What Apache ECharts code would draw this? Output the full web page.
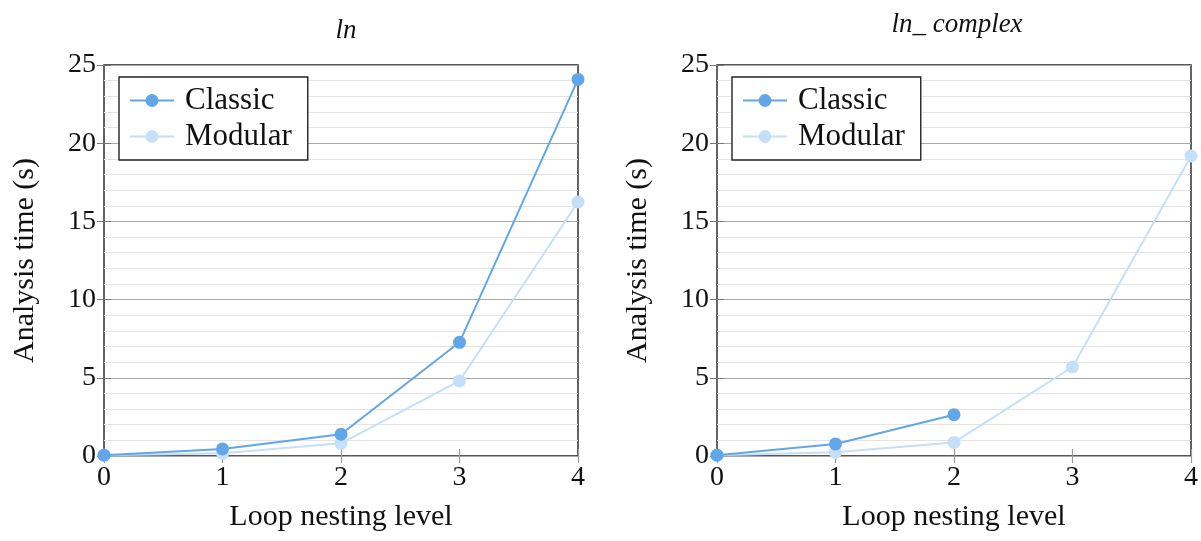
<!DOCTYPE html>
<html>
<head>
<meta charset="utf-8">
<script src="https://cdn.jsdelivr.net/npm/echarts@6/dist/echarts.min.js"></script>
<style>
  html, body { margin: 0; padding: 0; background: #fff; }
  #chart { width: 1201px; height: 541px; }
</style>
</head>
<body>
<div id="chart"></div>
<script>
// nesting levels on the x axis
const levels = [0, 1, 2, 3, 4];

// ln
const lnClassic = [0.05, 0.45, 1.39, 7.27, 24.08];
const lnModular = [0.05, 0.17, 0.81, 4.8, 16.24];

// ln_ complex (classic stops at level 2)
const complexClassic = [0.05, 0.77, 2.64];
const complexModular = [0.05, 0.24, 0.87, 5.69, 19.18];

const yTicks = [0, 5, 10, 15, 20, 25];

const FONT = "Liberation Serif";
const colorClassic = "#62a6ea";
const colorModular = "#c4dff8";

const chart = echarts.init(document.getElementById("chart"));

const pair = vals => vals.map((v, i) => [levels[i], v]);

// one panel = grid + bottom/top x axes + left/right y axes
let grids = [], xAxis = [], yAxis = [], series = [], legends = [];
const panels = [
    { left: 104, right: 623, classic: lnClassic, modular: lnModular, legendLeft: 119 },
    { left: 717, right: 10, classic: complexClassic, modular: complexModular, legendLeft: 732 }
];

panels.forEach((p, k) => {
    grids.push({
        left: p.left, right: p.right, top: 65, bottom: 85,
        show: true, borderColor: "#222", borderWidth: 1.4, backgroundColor: "transparent"
    });
    xAxis.push({
        type: "value", gridIndex: k, min: 0, max: 4, interval: 1,
        position: "bottom",
        name: "Loop nesting level", nameLocation: "middle", nameGap: 46,
        nameTextStyle: { fontFamily: FONT, fontSize: 30, color: "#111" },
        axisLine: { show: false },
        axisTick: { show: true, inside: true, length: 7, lineStyle: { color: "#999", width: 1.2 } },
        axisLabel: { fontFamily: FONT, fontSize: 28, color: "#111", margin: 8 },
        splitLine: { show: false }
    });
    xAxis.push({
        type: "value", gridIndex: k, min: 0, max: 4, interval: 1,
        position: "top",
        axisLine: { show: false },
        axisTick: { show: true, inside: true, length: 7, lineStyle: { color: "#999", width: 1.2 } },
        axisLabel: { show: false },
        splitLine: { show: false }
    });
    yAxis.push({
        type: "value", gridIndex: k, min: 0, max: 25, interval: 5,
        position: "left",
        name: "Analysis time (s)", nameLocation: "middle", nameGap: 64,
        nameTextStyle: { fontFamily: FONT, fontSize: 30, color: "#111" },
        axisLine: { show: false },
        axisTick: { show: true, inside: true, length: 7, lineStyle: { color: "#777" } },
        axisLabel: { fontFamily: FONT, fontSize: 28, color: "#111", margin: 8,
            formatter: v => (yTicks.includes(v) ? String(v) : "") },
        splitLine: { show: true, lineStyle: { color: "#a8a8a8", width: 1 } },
        minorSplitLine: { show: true, lineStyle: { color: "#e4e4e4", width: 1.2 } }
    });
    yAxis.push({
        type: "value", gridIndex: k, min: 0, max: 25, interval: 5,
        position: "right",
        axisLine: { show: false },
        axisTick: { show: true, inside: true, length: 7, lineStyle: { color: "#777" } },
        axisLabel: { show: false },
        splitLine: { show: false }
    });
    series.push({
        name: "Modular", type: "line", xAxisIndex: 2 * k, yAxisIndex: 2 * k,
        data: pair(p.modular), symbol: "circle", symbolSize: 13,
        itemStyle: { color: colorModular }, lineStyle: { color: colorModular, width: 2 },
        z: 3
    });
    series.push({
        name: "Classic", type: "line", xAxisIndex: 2 * k, yAxisIndex: 2 * k,
        data: pair(p.classic), symbol: "circle", symbolSize: 13,
        itemStyle: { color: colorClassic }, lineStyle: { color: colorClassic, width: 2 },
        z: 4
    });
    legends.push({
        data: ["Classic", "Modular"], orient: "vertical",
        left: p.legendLeft, top: 77,
        backgroundColor: "#fff", borderColor: "#222", borderWidth: 1.4, borderRadius: 0,
        padding: [8, 16, 8, 10], itemGap: 5, itemWidth: 44, itemHeight: 16,
        textStyle: { fontFamily: FONT, fontSize: 31, color: "#111", padding: [0, 0, 0, 6] },
        selectedMode: false
    });
});

const option = {
    animation: false,
    title: [
        { text: "ln", left: 341, top: 12, textAlign: "center",
          textStyle: { fontFamily: FONT, fontStyle: "italic", fontWeight: "normal", fontSize: 27, color: "#111" } },
        { text: "ln_ complex", left: 952, top: 6, textAlign: "center",
          textStyle: { fontFamily: FONT, fontStyle: "italic", fontWeight: "normal", fontSize: 27, color: "#111" } }
    ],
    legend: legends,
    grid: grids,
    xAxis,
    yAxis,
    series
};

chart.setOption(option);
</script>
</body>
</html>
